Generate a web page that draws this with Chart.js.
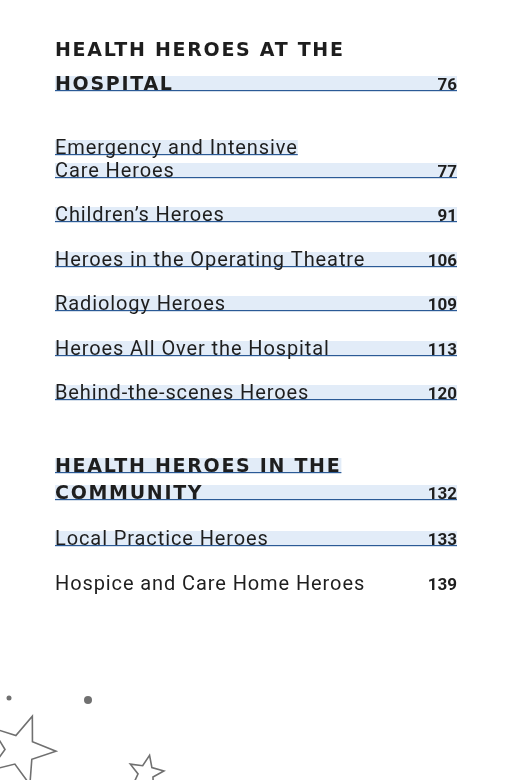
<!DOCTYPE html>
<html><head><meta charset="utf-8">
<script src="https://cdn.jsdelivr.net/npm/chart.js@4"></script>
<style>html,body{margin:0;background:#fff}#c{display:block}</style>
</head><body>
<div style="width:505px;height:780px"><canvas id="c"></canvas></div>
<script>
// table of contents entries
const sections = ["HEALTH HEROES AT THE HOSPITAL", "HEALTH HEROES IN THE COMMUNITY"];
const sectionPages = [76, 132];
const entries = [
  ["Emergency and Intensive", "Care Heroes"],
  ["Children’s Heroes"],
  ["Heroes in the Operating Theatre"],
  ["Radiology Heroes"],
  ["Heroes All Over the Hospital"],
  ["Behind-the-scenes Heroes"],
  ["Local Practice Heroes"],
  ["Hospice and Care Home Heroes"],
];
const entryPages = [77, 91, 106, 109, 113, 120, 133, 139];
const highlighted = [true, true, true, true, true, true, true, false];

const LEFT = 55, RIGHT = 457;
const rows = [];
rows.push({lines: ["HEALTH HEROES AT THE", "HOSPITAL"], page: sectionPages[0], heading: true, band: true, y: [50, 84]});
const ys = [[148, 171], [215], [260], [304], [349], [393]];
for (let i = 0; i < 6; i++) rows.push({lines: entries[i], page: entryPages[i], heading: false, band: highlighted[i], y: ys[i]});
rows.push({lines: ["HEALTH HEROES IN THE", "COMMUNITY"], page: sectionPages[1], heading: true, band: true, y: [466, 493], bandAll: true});
rows.push({lines: entries[6], page: entryPages[6], heading: false, band: highlighted[6], y: [539]});
rows.push({lines: entries[7], page: entryPages[7], heading: false, band: highlighted[7], y: [584]});

function font(ctx, h) {
  if (h) { ctx.font = "bold 19px 'DejaVu Sans'"; ctx.letterSpacing = "1.7px"; }
  else { ctx.font = "20px Roboto"; ctx.letterSpacing = "0.9px"; }
}

function star(ctx, cx, cy, R, r, rot) {
  ctx.beginPath();
  for (let i = 0; i < 10; i++) {
    const a = rot + i * Math.PI / 5, rr = i % 2 ? r : R;
    ctx.lineTo(cx + rr * Math.sin(a), cy - rr * Math.cos(a));
  }
  ctx.closePath();
  ctx.stroke();
}

const tocPlugin = {
  id: "toc",
  afterDraw(chart) {
    const ctx = chart.ctx, xs = chart.scales.x, yS = chart.scales.y;
    ctx.save();
    ctx.textBaseline = "middle";
    rows.forEach(row => {
      row.lines.forEach((t, li) => {
        const yc = yS.getPixelForValue(row.y[li]);
        const last = li === row.lines.length - 1;
        font(ctx, row.heading);
        const w = ctx.measureText(t).width;
        if (row.band && (last || row.bandAll || !row.heading)) {
          const x0 = xs.getPixelForValue(LEFT);
          const x1 = last ? xs.getPixelForValue(RIGHT) : x0 + w;
          ctx.fillStyle = "#e2ecf8";
          ctx.fillRect(x0, yc - 8, x1 - x0, 15);
          ctx.fillStyle = "#2b5a96";
          ctx.fillRect(x0, yc + 6, x1 - x0, 1.2);
        }
        ctx.fillStyle = "#1e1e1e";
        ctx.textAlign = "left";
        ctx.fillText(t, xs.getPixelForValue(LEFT), yc + 1);
        if (last) {
          ctx.font = "bold 17px Roboto"; ctx.letterSpacing = "0px";
          ctx.textAlign = "right";
          ctx.fillText(String(row.page), xs.getPixelForValue(RIGHT), yc + 2);
        }
      });
    });
    // decorative stars
    ctx.strokeStyle = "#707070"; ctx.lineWidth = 1.6; ctx.fillStyle = "#707070";
    star(ctx, 20, 750, 36, 15, 0.35);
    star(ctx, 146, 773, 18, 8, 0.2);
    ctx.beginPath(); ctx.arc(9, 698, 2.5, 0, 7); ctx.fill();
    ctx.beginPath(); ctx.arc(88, 700, 4, 0, 7); ctx.fill();
    ctx.restore();
  }
};

new Chart(document.getElementById("c"), {
  type: "scatter",
  data: { datasets: [{ data: [] }] },
  options: {
    responsive: true, maintainAspectRatio: false, animation: false,
    layout: { padding: 0 },
    plugins: { legend: { display: false }, tooltip: { enabled: false } },
    scales: {
      x: { type: "linear", min: 0, max: 505, display: false },
      y: { type: "linear", min: 0, max: 780, reverse: true, display: false }
    }
  },
  plugins: [tocPlugin]
});
</script>
</body></html>
